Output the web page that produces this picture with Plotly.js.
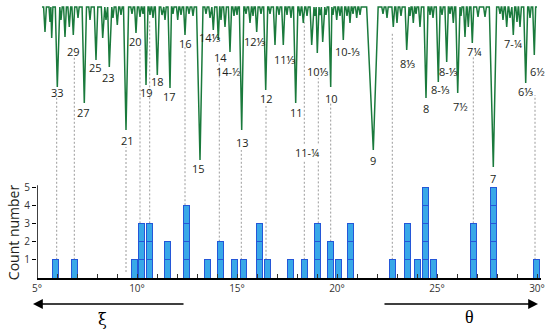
<!DOCTYPE html>
<html><head><meta charset="utf-8">
<script src="https://cdn.plot.ly/plotly-3.0.1.min.js"></script>
<style>html,body{margin:0;padding:0;background:#fff;}#chart{width:550px;height:331px;}</style>
</head><body><div id="chart"></div>
<script>
// ---- Histogram (count number per angle) ----
const barPos   = [5.92, 6.88, 9.85, 10.22, 10.63, 11.52, 12.46, 13.5, 14.15, 14.88, 15.31, 16.1, 16.52, 17.67, 18.35, 19.04, 19.66, 20.06, 20.67, 22.77, 23.52, 24.0, 24.44, 24.82, 26.8, 27.8, 29.97];
const barCount = [1, 1, 1, 3, 3, 2, 4, 1, 2, 1, 1, 3, 1, 1, 1, 3, 2, 1, 3, 1, 3, 1, 5, 1, 3, 5, 1];

// ---- Spectrum dips (angle, level of minimum, line width) ----
const specBase = 14.89, specStart = 5.25, specEnd = 30.0;
const dipPos = [5.40,5.65,5.735,6.015,6.20,6.40,6.615,6.815,7.05,7.365,7.65,7.95,8.285,8.45,8.615,8.80,9.015,9.20,9.45,9.75,9.95,10.15,10.30,10.45,10.65,10.80,11.015,11.25,11.40,11.65,11.80,12.035,12.20,12.40,12.60,12.80,13.15,13.45,13.65,13.815,14.065,14.20,14.40,14.65,14.85,15.00,15.235,15.45,15.65,15.80,15.985,16.20,16.435,16.65,16.90,17.10,17.315,17.50,17.70,17.935,18.15,18.315,18.50,18.735,18.90,19.015,19.15,19.285,19.45,19.685,19.80,19.985,20.15,20.315,20.50,20.65,20.80,20.985,21.15,21.815,22.30,22.50,22.815,23.00,23.20,23.485,23.65,23.815,23.95,24.15,24.45,24.65,24.80,25.065,25.25,25.485,25.65,25.815,26.035,26.20,26.40,26.565,26.765,27.05,27.40,27.815,28.15,28.30,28.485,28.65,28.815,29.00,29.15,29.435,29.65,29.865];
const dipLevel = [13.52,14.07,13.19,10.49,14.18,13.24,13.79,13.35,14.29,9.62,14.18,11.98,13.19,14.18,11.59,14.29,13.90,14.45,8.13,14.51,13.46,14.34,14.51,10.60,14.45,14.29,11.15,14.45,14.18,10.44,14.51,14.18,14.45,13.35,14.51,14.40,6.48,14.51,14.29,13.63,13.08,14.18,13.79,12.42,14.40,14.45,8.13,14.51,14.01,14.40,13.52,14.51,10.33,14.51,12.80,14.45,12.80,14.45,14.29,9.62,14.40,14.01,14.40,12.80,14.40,12.36,14.45,12.97,14.45,10.49,14.45,14.18,14.40,13.08,14.40,14.01,14.51,14.29,14.45,7.03,14.51,14.29,13.79,14.01,14.40,12.53,14.40,14.01,14.51,13.79,9.89,14.45,14.29,10.77,14.45,11.87,14.51,14.01,10.16,14.40,13.24,13.79,12.91,14.34,14.34,6.10,14.51,14.18,13.79,14.29,13.35,14.07,13.79,10.71,14.29,12.25];
const dipWidth = [0.14,0.10,0.12,0.20,0.12,0.14,0.14,0.14,0.12,0.22,0.12,0.18,0.14,0.12,0.18,0.12,0.14,0.12,0.26,0.12,0.14,0.12,0.10,0.20,0.10,0.12,0.20,0.12,0.12,0.20,0.10,0.12,0.12,0.14,0.12,0.12,0.45,0.12,0.12,0.14,0.14,0.10,0.14,0.16,0.12,0.10,0.26,0.12,0.14,0.10,0.14,0.12,0.20,0.12,0.16,0.12,0.16,0.10,0.12,0.22,0.12,0.14,0.12,0.16,0.10,0.14,0.10,0.14,0.12,0.20,0.10,0.12,0.12,0.14,0.12,0.12,0.10,0.12,0.12,0.70,0.12,0.12,0.14,0.12,0.12,0.16,0.10,0.12,0.10,0.14,0.22,0.10,0.12,0.20,0.12,0.18,0.10,0.12,0.20,0.10,0.14,0.12,0.14,0.14,0.14,0.40,0.12,0.12,0.14,0.12,0.14,0.12,0.14,0.20,0.12,0.16];

// ---- Line labels ----
const labelText = ["33","29","27","25","23","21","20","19","18","17","16","15","14⅓","14","14-½","13","12⅓","12","11⅓","11","11-¼","10⅓","10","10-⅓","9","8⅓","8","8-⅓","8-⅓","7½","7¼","7","7-¼","6⅓","6½"];
const labelX = [6.0,6.8,7.3,7.9,8.55,9.5,9.9,10.45,11.0,11.6,12.4,13.05,13.65,14.15,14.55,15.25,15.9,16.45,17.4,17.95,18.5,19.05,19.7,20.5,21.8,23.5,24.45,25.15,25.55,26.15,26.85,27.8,28.8,29.4,30.0];
const labelY = [10.22,12.42,9.07,11.59,11.04,7.53,13.02,10.22,10.82,9.95,12.91,6.04,13.19,12.14,11.37,7.47,12.97,9.84,11.98,9.07,6.92,11.32,9.89,12.47,6.43,11.81,9.29,10.38,11.32,9.40,12.47,5.49,12.86,10.27,11.37];

// ---- Dashed guide lines (angle, top level, bottom level) ----
const guideX      = [5.985,6.865,9.45,10.15,10.635,12.4,14.115,15.215,16.45,18.365,19.065,19.685,22.765,26.815,29.9];
const guideTop    = [9.95,12.14,7.2,12.69,14.18,12.69,11.87,7.03,9.45,14.18,10.99,9.62,13.52,12.14,10.05];
const guideBottom = [1,1,0.33,3,3,4,2,1,1,1,3,2,1,3,1];

const xTickVals = [5,6,7,8,9,10,11,12,13,14,15,16,17,18,19,20,21,22,23,24,25,26,27,28,29,30];
const yTickVals = [1,2,3,4,5];

// build spectrum polyline
const sx = [specStart], sy = [specBase];
for (let i = 0; i < dipPos.length; i++) {
  const x = dipPos[i], hw = dipWidth[i] / 2;
  const prev = i > 0 ? dipPos[i-1] : specStart;
  const next = i < dipPos.length - 1 ? dipPos[i+1] : specEnd;
  const hl = Math.min(hw, (x - prev) / 2), hr = Math.min(hw, (next - x) / 2);
  sx.push(x - hl, x, x + hr); sy.push(specBase, dipLevel[i], specBase);
}
sx.push(specEnd); sy.push(specBase);

const traces = [];
for (let k = 1; k <= 5; k++) {
  traces.push({
    type: 'bar', x: barPos, y: barCount.map(c => c >= k ? 1 : null), width: 0.3,
    marker: {color: '#38a8e8', line: {color: '#2457d8', width: 1}},
    hoverinfo: 'skip', showlegend: false
  });
}
traces.push({type: 'scatter', mode: 'lines', x: sx, y: sy, line: {color: '#1a7a3c', width: 1.5}, hoverinfo: 'skip', showlegend: false, cliponaxis: false});

const shapes = guideX.map((x, i) => ({
  type: 'line', xref: 'x', yref: 'y', x0: x, x1: x, y0: guideBottom[i], y1: guideTop[i],
  line: {color: '#9a9a9a', width: 1, dash: '2px,2px'}, layer: 'below'
}));
shapes.push({type: 'line', xref: 'x', yref: 'y', x0: 5, x1: 5, y0: 0, y1: 5.1, line: {color: '#000', width: 1.5}});

const annotations = labelText.map((t, i) => ({
  x: labelX[i], y: labelY[i], xref: 'x', yref: 'y', text: t, showarrow: false, xanchor: 'center', yanchor: 'middle',
  font: {family: 'Open Sans, Noto Sans, sans-serif', size: 11, color: '#231f20'},
  bgcolor: t === '11-¼' ? '#ffffff' : 'rgba(0,0,0,0)', borderpad: 0
}));
annotations.push(
  {xref: 'paper', yref: 'paper', x: -0.0079, y: -0.0935, ax: 152, ay: 0, text: '', showarrow: true, arrowhead: 2, arrowsize: 1.4, arrowwidth: 1.4, arrowcolor: '#000'},
  {xref: 'paper', yref: 'paper', x: 0.994, y: -0.0935, ax: -155, ay: 0, text: '', showarrow: true, arrowhead: 2, arrowsize: 1.4, arrowwidth: 1.4, arrowcolor: '#000'},
  {xref: 'paper', yref: 'paper', x: 0.129, y: -0.151, xanchor: 'center', yanchor: 'middle', text: 'ξ', showarrow: false, font: {family: 'DejaVu Serif, serif', size: 16, color: '#000'}},
  {xref: 'paper', yref: 'paper', x: 0.859, y: -0.140, xanchor: 'center', yanchor: 'middle', text: 'θ', showarrow: false, font: {family: 'Liberation Serif, serif', size: 18, color: '#000'}},
  {xref: 'paper', yref: 'paper', x: -0.0476, y: 0.165, xanchor: 'center', yanchor: 'middle', text: 'Count number', textangle: -90, showarrow: false, font: {family: 'Open Sans, sans-serif', size: 14, color: '#231f20'}}
);

const layout = {
  width: 550, height: 331, margin: {l: 37, r: 9, t: 0, b: 53},
  paper_bgcolor: '#fff', plot_bgcolor: '#fff', barmode: 'stack', bargap: 0,
  xaxis: {range: [5, 30.2], showline: true, linecolor: '#000', linewidth: 1.5, ticks: 'inside', ticklen: 4, tickcolor: '#333',
    tickvals: xTickVals, ticktext: xTickVals.map(v => v % 5 === 0 ? v + '°' : ''), showgrid: false, zeroline: false,
    tickfont: {family: 'Open Sans, sans-serif', size: 10, color: '#333'}},
  yaxis: {range: [0, 15.275], showline: false, ticks: 'outside', ticklen: 4, tickcolor: '#000', tickvals: yTickVals,
    showgrid: false, zeroline: false, tickfont: {family: 'Open Sans, sans-serif', size: 10, color: '#333'}},
  shapes: shapes, annotations: annotations
};
Plotly.newPlot('chart', traces, layout, {displayModeBar: false, staticPlot: true});
</script></body></html>
